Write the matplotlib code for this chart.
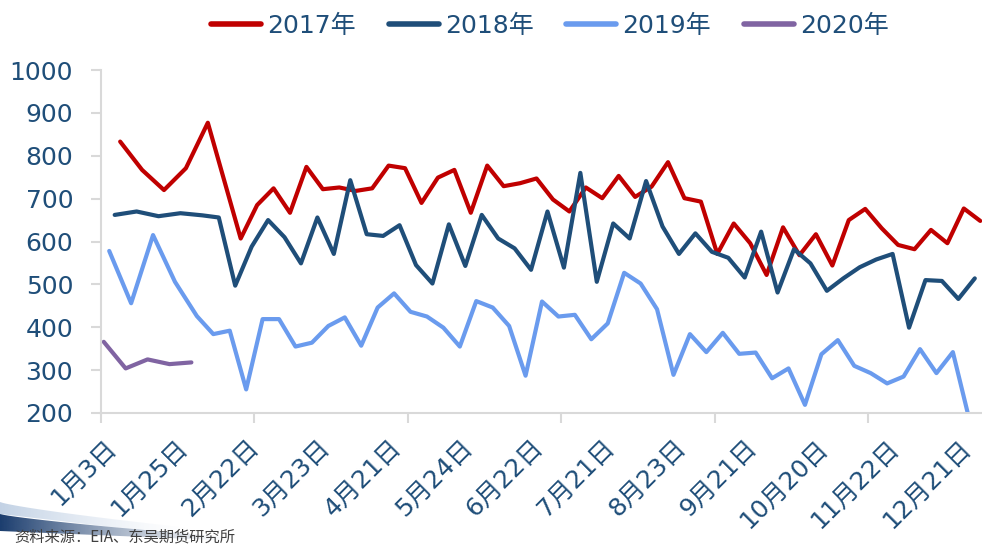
import numpy as np
import pandas as pd
import matplotlib
matplotlib.use('Agg')
import matplotlib.pyplot as plt
from matplotlib.patches import Polygon
from matplotlib.colors import to_rgb

plt.rcParams['font.family'] = ['DejaVu Sans', 'Noto Sans CJK SC']

# weekly series, first report date of each year (one value per week)
first_date_2017 = '2017-01-06'
first_date_2018 = '2018-01-05'
first_date_2019 = '2019-01-04'
first_date_2020 = '2020-01-03'

v2017 = [833, 767, 720, 771, 877, np.nan, 607, 685, 724, 667, 774, 722, 726, 718, 724, 777,
         771, 690, 749, 767, 667, 777, 729, 736, 747, 698, 670, 726, 701, 753, 704, 728,
         785, 701, 693, 571, 642, 596, 522, 633, 568, 617, 544, 650, 676, 631, 592, 582,
         627, 596, 677, 648]
v2018 = [662, 670, 659, 666, 661, 656, 497, 588, 650, 610, 549, 656, 571, 743, 617, 613,
         638, 545, 502, 640, 543, 662, 607, 584, 534, 670, 539, 760, 506, 642, 607, 741,
         635, 571, 619, 576, 562, 516, 623, 481, 582, 549, 485, 514, 540, 558, 571, 399,
         510, 508, 466, 514]
v2019 = [578, 456, 615, 506, 426, 384, 392, 255, 419, 419, 355, 364, 403, 423, 357, 446,
         479, 436, 425, 399, 355, 461, 446, 403, 287, 460, 425, 429, 372, 409, 527, 502,
         442, 289, 384, 342, 387, 338, 341, 281, 304, 219, 337, 370, 310, 293, 269, 285,
         349, 293, 342, 185]
v2020 = [366, 304, 325, 314, 318]

series_names = ['2017年', '2018年', '2019年', '2020年']
series_colors = ['#C00000', '#1F4E79', '#6A9BEE', '#8064A2']

x_labels = ['1月3日', '1月25日', '2月22日', '3月23日', '4月21日', '5月24日', '6月22日',
            '7月21日', '8月23日', '9月21日', '10月20日', '11月22日', '12月21日']

# category axis = union of month-day of all report dates (like the Excel sheet)
starts = [first_date_2017, first_date_2018, first_date_2019, first_date_2020]
values = [v2017, v2018, v2019, v2020]
keys = []
for s, v in zip(starts, values):
    d = pd.date_range(s, periods=len(v), freq='7D')
    keys.append([(x.month, x.day) for x in d])
cats = sorted(set(k for ks in keys for k in ks))
cat_idx = {k: i for i, k in enumerate(cats)}

fig = plt.figure(figsize=(9.82, 5.45), dpi=100)

# decorative swoosh bottom-left (template background)
deco = fig.add_axes([0, 0, 1, 1], zorder=-1)
deco.set_xlim(0, 982)
deco.set_ylim(545, 0)
deco.axis('off')


def swoosh(color, top0, top1, bot0, bot1, length, amax):
    t = np.linspace(0, 1, 60)
    xs = t * length
    top = top0 + (top1 - top0) * t ** 0.8
    bot = bot0 + (bot1 - bot0) * t
    verts = np.vstack([np.column_stack([xs, top]), np.column_stack([xs[::-1], bot[::-1]])])
    poly = Polygon(verts, closed=True, facecolor='none', edgecolor='none')
    deco.add_patch(poly)
    g = np.linspace(0, 1, 256)
    img = np.zeros((1, 256, 4))
    img[..., :3] = to_rgb(color)
    img[0, :, 3] = amax * (1 - g) ** 1.4
    im = deco.imshow(img, extent=[0, length, 545, 495], aspect='auto', interpolation='bilinear')
    im.set_clip_path(poly)


swoosh('#A9BFDA', 502, 528, 514, 536, 190, 0.7)
swoosh('#1B3D6E', 514, 538, 531, 541, 240, 1.0)

ax = fig.add_axes([101 / 982, 132 / 545, 882 / 982, 343 / 545])

for name, color, ks, v in zip(series_names, series_colors, keys, values):
    x = np.array([cat_idx[k] for k in ks])
    y = np.array(v, dtype=float)
    ok = ~np.isnan(y)
    ax.plot(x[ok], y[ok], color=color, lw=3, label=name, solid_joinstyle='round',
            solid_capstyle='round')

ax.set_xlim(-0.5, len(cats) - 0.5)
ax.set_ylim(200, 1000)
ax.set_yticks(np.arange(200, 1001, 100))

label_pos = []
for lab in x_labels:
    m, rest = lab.split('月')
    label_pos.append(cat_idx[(int(m), int(rest.rstrip('日')))])
ax.set_xticks(label_pos)
ax.set_xticklabels(x_labels, rotation=45, ha='right', va='top', rotation_mode='anchor')
ax.set_xticks(np.arange(-0.5, len(cats), 28), minor=True)

txt_color = '#1F4E79'
grid_gray = '#D9D9D9'
ax.tick_params(axis='x', which='major', length=0, pad=16, labelsize=18, labelcolor=txt_color)
ax.tick_params(axis='x', which='minor', length=7, width=1.5, color=grid_gray, direction='out')
ax.tick_params(axis='y', length=7, width=1.5, color=grid_gray, direction='out', pad=13,
               labelsize=18, labelcolor=txt_color)

for side in ['top', 'right']:
    ax.spines[side].set_visible(False)
for side in ['left', 'bottom']:
    ax.spines[side].set_color(grid_gray)
    ax.spines[side].set_linewidth(1.5)

handles, labels = ax.get_legend_handles_labels()
leg = fig.legend(handles, labels, ncol=4, loc='center', bbox_to_anchor=(0.56, 0.953),
                 frameon=False, fontsize=18, handlelength=2.0, handletextpad=0.25,
                 columnspacing=1.3, labelcolor=txt_color)
for line in leg.get_lines():
    line.set_linewidth(4)

fig.text(0.015, 0.0, '资料来源：EIA、东吴期货研究所', fontsize=11, color='#404040',
         style='italic', va='bottom', family=['Noto Sans CJK SC', 'DejaVu Sans'])

fig.savefig('out.png', dpi=100)
